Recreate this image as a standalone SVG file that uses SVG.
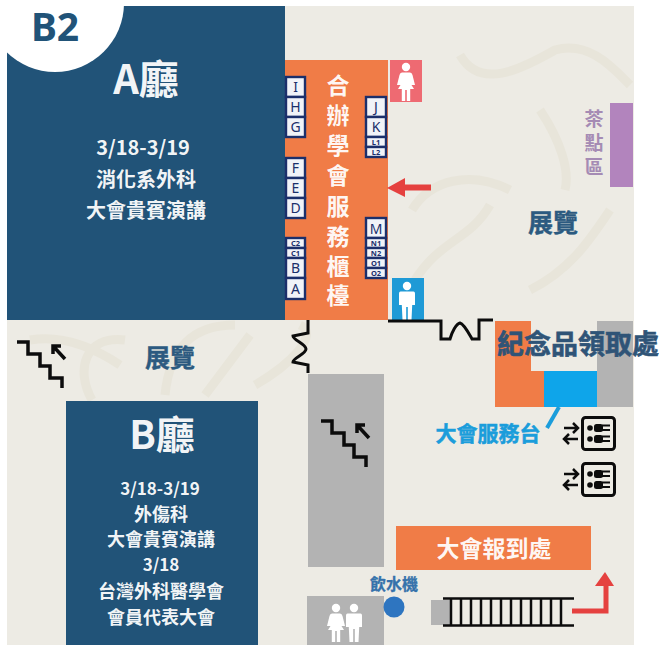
<svg xmlns="http://www.w3.org/2000/svg" width="659" height="648" viewBox="0 0 659 648">
<style>
text{font-family:"Noto Sans CJK TC","Noto Sans",sans-serif;text-anchor:middle;font-weight:700}
.w{fill:#fff;fill-opacity:.96}
.navy{fill:#2c5a80;stroke:#2c5a80;stroke-width:.4}
.b{fill:#f1f3f8;stroke:#1b2f6b;stroke-width:2.400}
.bt{fill:#1b2f6b;font-family:"Noto Sans",sans-serif;font-size:14px;font-weight:400}
.bs{font-size:7.500px;font-weight:700}
.ln{fill:none;stroke:#0c0c0c;stroke-width:3}
.wm{fill:none;stroke:#e8e5da;stroke-width:9}
.person{fill:#fff}
</style>
<defs>
<g id="elev">
<rect x="1.500" y="1.500" width="32" height="32" rx="3" fill="#edebe4" stroke="#0c0c0c" stroke-width="3"/>
<circle cx="9" cy="12" r="2.800" fill="#0c0c0c"/><circle cx="9" cy="23" r="2.800" fill="#0c0c0c"/>
<rect x="13" y="8" width="9" height="8" rx="2.500" fill="#0c0c0c"/><rect x="13" y="19" width="9" height="8" rx="2.500" fill="#0c0c0c"/>
<path d="M21 9.500H29M21 14H29M21 20.500H29M21 25H29" stroke="#0c0c0c" stroke-width="2"/>
<path d="M-17 12H-3M-8 7L-3 12L-8 17M-3 23H-17M-12 18L-17 23L-12 28" fill="none" stroke="#0c0c0c" stroke-width="2.500"/>
</g>
<g id="man"><circle cx="0" cy="-14" r="4.200"/><path d="M-6.500-8.500H6.500Q8-8.500 8-6.500V5H5.200L4.500 20H.8V7H-.8V20H-4.500L-5.200 5H-8V-6.500Q-8-8.500-6.500-8.500Z"/></g>
<g id="woman"><circle cx="0" cy="-14" r="4.200"/><path d="M-4-8.500H4Q6-8.500 6.500-6L9 4H5.500L8 8H4.200V20H.8V9H-.8V20H-4.200V8H-8L-5.500 4H-9L-6.500-6Q-6-8.500-4-8.500Z"/></g>
<g id="stairs"><path fill="none" stroke="#0c0c0c" stroke-width="3.500" d="M0 0H11V12H23V24H33V36H45V46M48 17L36 4M36 12V4H44"/></g>
</defs>
<rect width="659" height="648" fill="#fff"/>
<rect x="7" y="6" width="627" height="639" fill="#edebe4"/>
<g id="watermark">
<path class="wm" d="M30 340C60 335 90 345 120 365M92 400C75 370 85 335 125 340M165 395C170 345 195 325 235 325M205 395L250 335M300 325C320 335 290 365 255 385"/>
<path class="wm" d="M460 55C480 90 520 70 555 50C590 40 615 70 630 85M412 210C430 180 470 170 510 190M415 280C440 240 470 240 490 205M610 210C590 240 570 270 530 290M540 110C560 140 570 170 565 190"/>
</g>
<g id="hall-a">
<rect x="7" y="6" width="278" height="314" fill="#215378"/>
<text x="146" y="94" font-size="40" class="w">A廳</text>
<text x="143" y="155" font-size="20" class="w" font-weight="500">3/18-3/19</text>
<text x="146" y="187" font-size="20" class="w">消化系外科</text>
<text x="146" y="218" font-size="20" class="w">大會貴賓演講</text>
</g>
<g id="b2-badge">
<circle cx="55" cy="3" r="69" fill="#fff"/>
<text x="55" y="41" font-size="39" fill="#215378" font-weight="400" style="font-family:'Noto Sans',sans-serif">B2</text>
</g>
<g id="service-counter">
<rect x="285" y="60" width="103" height="260" fill="#f07c47"/>
<text x="338" y="94" class="w" font-size="23">合</text><text x="338" y="124" class="w" font-size="23">辦</text><text x="338" y="154" class="w" font-size="23">學</text><text x="338" y="184" class="w" font-size="23">會</text><text x="338" y="215" class="w" font-size="23">服</text><text x="338" y="245" class="w" font-size="23">務</text><text x="338" y="275" class="w" font-size="23">櫃</text><text x="338" y="304" class="w" font-size="23">檯</text>
</g>
<g id="booths">
<rect class="b" x="286" y="77" width="19" height="20"/><text class="bt" x="295.500" y="92">I</text>
<rect class="b" x="286" y="97" width="19" height="20"/><text class="bt" x="295.500" y="112">H</text>
<rect class="b" x="286" y="117" width="19" height="20"/><text class="bt" x="295.500" y="132">G</text>
<rect class="b" x="286" y="158" width="19" height="20"/><text class="bt" x="295.500" y="173">F</text>
<rect class="b" x="286" y="178" width="19" height="20"/><text class="bt" x="295.500" y="193">E</text>
<rect class="b" x="286" y="198" width="19" height="20"/><text class="bt" x="295.500" y="213">D</text>
<rect class="b" x="286" y="238" width="19" height="10"/><text class="bt bs" x="295.500" y="246">C2</text>
<rect class="b" x="286" y="248" width="19" height="10"/><text class="bt bs" x="295.500" y="256">C1</text>
<rect class="b" x="286" y="258" width="19" height="20"/><text class="bt" x="295.500" y="273">B</text>
<rect class="b" x="286" y="278" width="19" height="21"/><text class="bt" x="295.500" y="294">A</text>
<rect class="b" x="366" y="97" width="20" height="20"/><text class="bt" x="376" y="112">J</text>
<rect class="b" x="366" y="117" width="20" height="20"/><text class="bt" x="376" y="132">K</text>
<rect class="b" x="366" y="137" width="20" height="10"/><text class="bt bs" x="376" y="145">L1</text>
<rect class="b" x="366" y="147" width="20" height="10"/><text class="bt bs" x="376" y="155">L2</text>
<rect class="b" x="366" y="218" width="20" height="20"/><text class="bt" x="376" y="234">M</text>
<rect class="b" x="366" y="238" width="20" height="10"/><text class="bt bs" x="376" y="246">N1</text>
<rect class="b" x="366" y="248" width="20" height="10"/><text class="bt bs" x="376" y="256">N2</text>
<rect class="b" x="366" y="258" width="20" height="10"/><text class="bt bs" x="376" y="266">O1</text>
<rect class="b" x="366" y="268" width="20" height="10"/><text class="bt bs" x="376" y="276">O2</text>
</g>
<g id="restroom-f"><rect x="390" y="60" width="32" height="42" fill="#ee6a72"/><use href="#woman" x="406" y="81" class="person"/></g>
<g id="restroom-m"><rect x="392" y="278" width="32" height="42" fill="#1f9ad6"/><use href="#man" x="407" y="300" class="person"/></g>
<g id="tea"><rect x="610" y="103" width="23" height="84" fill="#b284bd"/>
<text x="594" y="126" font-size="19" fill="#a58bb4">茶</text><text x="594" y="150" font-size="19" fill="#a58bb4">點</text><text x="594" y="174" font-size="19" fill="#a58bb4">區</text></g>
<text id="expo-1" x="553" y="232" font-size="25" class="navy">展覽</text>
<text id="expo-2" x="170" y="367" font-size="25" class="navy">展覽</text>
<g id="hall-b">
<rect x="66" y="401" width="192" height="244" fill="#215378"/>
<text x="162" y="449" font-size="39" class="w">B廳</text>
<text x="160" y="495" font-size="17" class="w" font-weight="500">3/18-3/19</text>
<text x="161" y="521" font-size="18" class="w">外傷科</text>
<text x="161" y="546" font-size="18" class="w">大會貴賓演講</text>
<text x="161" y="571" font-size="17" class="w" font-weight="500">3/18</text>
<text x="161" y="598" font-size="18" class="w">台灣外科醫學會</text>
<text x="161" y="624" font-size="18" class="w">會員代表大會</text>
</g>
<g id="stair-block"><rect x="308" y="374" width="76" height="193" fill="#b3b3b3"/></g>
<g id="restroom-b2"><rect x="307" y="596" width="77" height="49" fill="#b3b3b3"/>
<use href="#woman" x="336" y="622" class="person"/><use href="#man" x="354" y="622" class="person"/></g>
<g id="souvenir">
<path d="M495 321H531V371H544V407H495Z" fill="#f07c47"/>
<rect x="544" y="371" width="53" height="36" fill="#0ea5ea"/>
<rect x="597" y="321" width="36" height="86" fill="#b3b3b3"/>
<text x="578" y="354" font-size="27" fill="#2f5477" stroke="#2f5477" stroke-width=".6">紀念品領取處</text>
</g>
<g id="info-desk">
<text x="488" y="441" font-size="21" fill="#1b9ddb" stroke="#1b9ddb" stroke-width=".5">大會服務台</text>
</g>
<g id="lift-1"><use href="#elev" x="581" y="416"/></g>
<g id="lift-2"><use href="#elev" x="581" y="462"/></g>
<g id="registration"><rect x="396" y="526" width="195" height="44" fill="#f07c47"/>
<text x="494" y="557" font-size="23" class="w" font-weight="500">大會報到處</text></g>
<g id="water"><circle cx="394" cy="607" r="10.500" fill="#2e75c0"/>
<text x="394" y="590" font-size="16" fill="#3572ab" stroke="#3572ab" stroke-width=".3">飲水機</text></g>
<g id="escalator"><rect x="431" y="600" width="20" height="25" fill="#b3b3b3"/>
<path fill="none" stroke="#0c0c0c" stroke-width="2.500" d="M443 598.500H574M443 625.500H574M451 598V625M461 598V625M471 598V625M481 598V625M491 598V625M501 598V625M511 598V625M521 598V625M531 598V625M541 598V625M551 598V625M561 598V625"/></g>
<g id="connectors">
<path d="M431 187.500H404" stroke="#e5413f" stroke-width="6" fill="none"/><path d="M387 188L405 178V197Z" fill="#e5413f"/>
<path d="M572 611H606V584" stroke="#e5413f" stroke-width="5" fill="none"/><path d="M605 572L614 586H595Z" fill="#e5413f"/>
<path d="M559 407L547 428" stroke="#1b9ddb" stroke-width="4" fill="none"/>
<path class="ln" d="M308 320V333L293 336C293 340 306 344 306 349C306 354 293 358 293 362L308 365V373"/>
<path class="ln" d="M388 321H441V339H450C452 332 456 324 460 323C464 324 468 332 472 339H479V320H493"/>
<use href="#stairs" x="17" y="342"/>
<use href="#stairs" x="321" y="421"/>
</g>
</svg>
